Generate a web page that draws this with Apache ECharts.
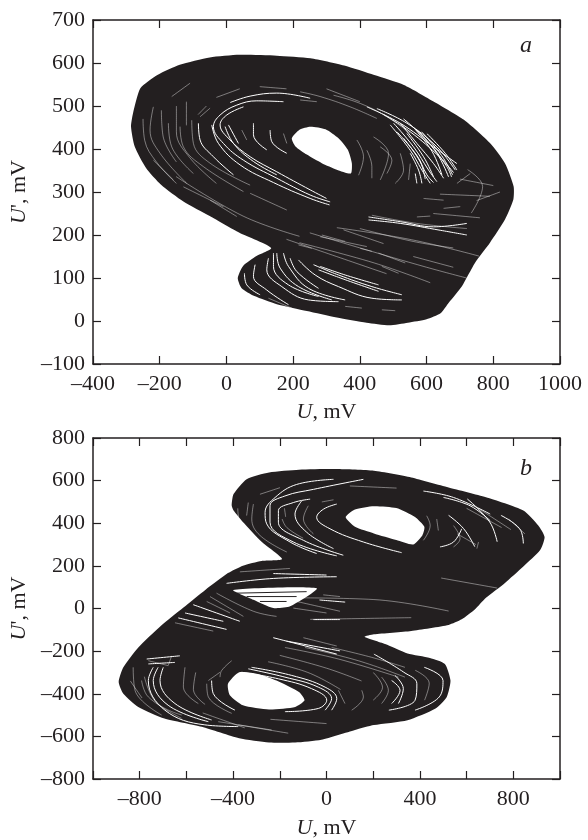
<!DOCTYPE html>
<html><head><meta charset="utf-8">
<style>html,body{margin:0;padding:0;background:#fff}#c{width:588px;height:840px}</style>
<script src="https://cdn.jsdelivr.net/npm/echarts@6/dist/echarts.min.js"></script>
</head><body><div id="c"></div>
<script>
const outlineA=[[-286,452],[-280,483],[-258,541],[-207,572],[-140,596],[-50,613],[39,619],[151,617],[252,611],[353,594],[443,572],[532,549],[622,510],[712,468],[790,414],[835,367],[861,313],[860,282],[835,236],[790,182],[745,135],[706,81],[667,43],[642,18],[600,4],[544,-4],[488,-10],[420,-4],[331,8],[241,23],[151,39],[84,58],[45,77],[34,100],[50,128],[90,151],[134,170],[39,205],[-50,244],[-129,278],[-196,317],[-241,356],[-275,406]];
const holeA=[[196,425],[219,445],[252,452],[297,446],[336,425],[364,398],[376,367],[373,343],[331,352],[286,367],[241,387],[207,406]];
const strongA=[
[[311,277],[251,293],[151,332],[51,374],[-9,413],[-39,452],[-19,479],[31,502],[91,512],[171,510]],
[[300,285],[251,305],[151,347],[71,382],[11,421],[-19,456],[1,479],[51,498]],
[[309,270],[251,285],[141,322],[41,363],[-24,413],[-44,456]],
[[-4,452],[21,413],[81,371],[151,340]],
[[6,456],[36,413]],
[[11,508],[71,523],[151,530],[251,518]],
[[-84,460],[-79,421],[-39,382],[21,340]],
[[81,460],[81,433],[121,398]],
[[131,444],[136,417],[181,390]],
[[421,498],[521,460],[621,405],[691,366]],
[[451,494],[541,460],[631,405],[686,351]],
[[521,460],[571,413],[621,366],[651,332]],
[[501,460],[561,405],[606,351],[631,324]],
[[491,456],[551,397],[586,351],[611,320]],
[[541,436],[591,382],[621,335]],
[[571,444],[631,390],[666,335]],
[[601,436],[656,390],[691,351]],
[[551,390],[576,351],[586,320]],
[[566,343],[571,320]],
[[471,480],[551,440],[641,380],[681,345]],
[[531,470],[601,420],[660,360],[675,335]],
[[511,440],[571,385],[601,340],[621,322]],
[[531,425],[581,370],[596,330]],
[[561,450],[616,395],[646,340]],
[[585,440],[645,385],[678,340]],
[[426,242],[521,231],[621,219],[721,227]],
[[426,235],[521,227],[641,211],[721,200]],
[[216,142],[266,107],[336,80],[436,53],[526,49]],
[[261,131],[336,107],[436,80],[526,61]],
[[281,127],[356,107],[456,84]],
[[276,119],[356,96],[456,69]],
[[54,111],[61,84],[101,61]],
[[86,131],[81,104],[121,72],[186,38]],
[[126,146],[121,119],[166,80],[246,49],[336,45]],
[[141,158],[141,127],[186,84],[276,57]],
[[151,158],[161,123],[216,80],[316,49]],
[[171,158],[186,127],[246,76],[356,49]],
[[191,146],[211,115],[276,76]]
];
const faintA=[
[[-104,467],[-99,413],[-49,367],[71,316]],
[[-49,495],[-79,475]],
[[-139,452],[-129,405],[-69,359],[51,301]],
[[-174,460],[-164,405],[-99,343]],
[[-219,498],[-229,444],[-199,390],[-119,320]],
[[-164,522],[-109,553]],
[[171,436],[181,413]],
[[46,444],[61,421]],
[[-129,312],[-9,266]],
[[-49,281],[31,243]],
[[71,297],[181,258]],
[[-219,374],[-159,328]],
[[221,533],[281,522],[371,498],[451,471]],
[[321,525],[401,506],[481,475],[551,436]],
[[221,514],[271,510]],
[[391,421],[411,382],[396,339]],
[[441,428],[486,390],[461,328]],
[[461,405],[496,374],[481,343]],
[[521,390],[531,351],[506,320]],
[[551,366],[546,328]],
[[421,397],[436,359],[436,332]],
[[436,246],[571,227],[721,215]],
[[651,262],[701,266]],
[[591,285],[651,281]],
[[281,196],[421,173]],
[[351,212],[471,180]],
[[571,242],[611,244]],
[[691,320],[731,343]],
[[723,352],[768,313],[734,251]],
[[331,217],[555,189],[757,151]],
[[219,182],[443,135],[611,89]],
[[-151,336],[50,244],[219,197]],
[[126,53],[196,30]],
[[356,34],[406,30]],
[[216,177],[256,169]],
[[401,169],[436,162]],
[[286,200],[356,185]],
[[456,158],[536,135]],
[[466,127],[516,111]],
[[466,26],[506,24]],
[[-250,470],[-245,420],[-210,370],[-150,320]],
[[-195,490],[-190,430],[-150,370]],
[[-150,500],[-150,440],[-110,380],[-30,320]],
[[-120,510],[-120,455]],
[[-60,500],[-85,480]],
[[-30,520],[40,540]],
[[100,545],[180,540]],
[[300,540],[400,510]],
[[250,205],[400,170],[600,125],[720,100]],
[[180,190],[330,150],[480,110]],
[[400,215],[560,185],[680,170]],
[[560,150],[680,125]],
[[620,250],[760,240]],
[[640,295],[790,290]],
[[700,330],[800,315]],
[[750,280],[820,300]]
];
const outlineB=[[-406,483],[-398,537],[-342,607],[-246,638],[-118,651],[42,654],[203,646],[363,615],[523,568],[683,522],[843,460],[907,390],[934,336],[915,274],[843,197],[763,119],[683,50],[635,-5],[579,-51],[523,-77],[363,-105],[203,-121],[163,-133],[251,-167],[347,-211],[443,-232],[507,-260],[531,-338],[515,-415],[467,-469],[347,-524],[203,-547],[122,-570],[-22,-616],[-134,-629],[-246,-629],[-374,-609],[-534,-555],[-694,-516],[-806,-462],[-870,-400],[-890,-345],[-870,-276],[-806,-183],[-710,-82],[-614,3],[-518,88],[-422,166],[-358,201],[-278,223],[-190,232],[-278,313],[-358,406],[-398,460]];
const holeB1=[[82,429],[122,465],[203,480],[299,471],[379,429],[419,383],[411,344],[371,300],[299,321],[203,352],[122,383]];
const holeB2=[[-374,-299],[-422,-353],[-414,-407],[-358,-454],[-246,-474],[-134,-462],[-94,-431],[-118,-392],[-214,-338],[-294,-307]];
const wedgeB=[[-399,87],[-42,95],[-156,10],[-228,2],[-313,41]];
const wedgeLinesB=[[[-385,72],[-85,79]],[[-342,56],[-128,56]],[[-285,33],[-171,33]]];
const strongB=[
[[322,262],[158,312],[15,374],[-42,428],[-13,466],[44,490]],
[[72,250],[-99,320],[-206,405],[-206,459],[-142,497],[-70,513]],
[[44,247],[-142,312],[-242,405],[-242,482],[-178,528],[-56,559],[158,606]],
[[-42,258],[-156,312],[-256,397],[-263,451],[-220,521],[-128,582],[30,606]],
[[-106,505],[-135,443],[-85,358],[30,281]],
[[415,551],[544,521],[701,443]],
[[501,521],[615,482],[701,412]],
[[486,289],[544,312],[579,374]],
[[603,514],[699,406],[731,313]],
[[747,437],[827,375],[843,305]],
[[523,437],[587,375],[635,290]],
[[-428,118],[-228,141],[44,149]],
[[-228,164],[0,157]],
[[-571,18],[-371,-60]],
[[-606,-21],[-442,-60]],
[[-635,-44],[-428,-98]],
[[-56,-52],[58,-52]],
[[-364,-299],[-206,-330],[-64,-376],[1,-430],[-35,-469],[-178,-484]],
[[-335,-283],[-178,-322],[-35,-369],[22,-423],[-6,-477]],
[[-321,-276],[-149,-314],[-6,-369],[44,-423],[22,-477]],
[[-742,-276],[-763,-338],[-692,-477],[-521,-546],[-378,-554]],
[[-721,-276],[-742,-338],[-678,-454],[-506,-531]],
[[-699,-276],[-713,-338],[-649,-446],[-492,-523]],
[[-770,-237],[-628,-222]],
[[-763,-260],[-649,-253]],
[[279,-338],[315,-384],[279,-446]],
[[293,-314],[329,-376],[308,-446]],
[[419,-276],[499,-338],[483,-415],[379,-477]],
[[203,-214],[331,-299],[387,-353],[379,-431],[267,-477]],
[[-492,-338],[-485,-399],[-392,-477]],
[[-228,-137],[44,-214]],
[[-171,-153],[58,-199]],
[[-30,40],[80,30]]
];
const faintB=[
[[-78,482],[-99,420],[-56,350]],
[[-313,490],[-320,420],[-285,343],[-170,265]],
[[-335,497],[-342,436]],
[[-285,536],[-199,567]],
[[472,420],[479,366]],
[[644,281],[651,312]],
[[429,435],[444,389],[415,320]],
[[544,389],[572,327],[544,289]],
[[-371,172],[-156,188]],
[[-471,72],[-313,-13],[-214,-37]],
[[-499,56],[-356,-37]],
[[-513,33],[-413,-21]],
[[-649,-67],[-485,-106]],
[[-99,-137],[44,-176]],
[[-128,33],[58,-13]],
[[-14,64],[58,56]],
[[-142,2],[0,-21]],
[[491,143],[731,96]],
[[-118,50],[203,42],[523,-12]],
[[-70,-51],[363,-43]],
[[-792,-338],[-763,-415],[-621,-515]],
[[-828,-276],[-820,-384],[-706,-500]],
[[-763,-245],[-678,-268]],
[[-663,-222],[-678,-268]],
[[-513,-353],[-506,-415],[-406,-492]],
[[-456,-299],[-506,-338]],
[[-406,-245],[-449,-291],[-456,-322]],
[[-606,-276],[-613,-369],[-549,-446]],
[[151,-384],[158,-415],[108,-477]],
[[236,-322],[265,-384],[236,-446]],
[[51,-384],[79,-446]],
[[-178,-183],[51,-237],[308,-322]],
[[-92,-183],[136,-245],[336,-322]],
[[22,-183],[193,-229],[336,-276]],
[[-378,-546],[-164,-585]],
[[-464,-531],[-235,-570]],
[[-380,470],[-370,400],[-330,340]],
[[-190,420],[-170,380],[-100,330]],
[[-180,470],[-175,430]],
[[-20,500],[30,510]],
[[100,575],[300,565]],
[[600,470],[750,380]],
[[650,470],[790,370]],
[[780,420],[850,350]],
[[560,350],[640,300]],
[[-780,-320],[-730,-440],[-620,-500]],
[[-840,-340],[-790,-420]],
[[-560,-300],[-570,-380],[-520,-450]],
[[-250,-250],[-80,-300],[60,-380]],
[[-200,-220],[0,-280],[150,-340]],
[[-530,-490],[-350,-560]],
[[-240,-520],[0,-540]],
[[200,-300],[240,-370],[200,-430]],
[[380,-290],[440,-350],[420,-430]]
];
const INK='#231f20';
const FONT='"Liberation Serif","Times New Roman",serif';
const chart=echarts.init(document.getElementById('c'),null,{renderer:'canvas'});
const dash=v=>String(v).replace('-','\u2013');
const line={onZero:false,lineStyle:{color:INK,width:1.5}};
const tick={inside:true,length:8,lineStyle:{color:INK,width:1.2}};
const SIZE=22;
const nameStyle={fontFamily:FONT,fontSize:SIZE,color:INK,rich:{i:{fontFamily:FONT,fontSize:SIZE,fontStyle:'italic',color:INK}}};
function xAx(i,min,max,step,fmt,gap){return [
 {gridIndex:i,type:'value',min,max,interval:step,axisLine:line,axisTick:tick,splitLine:{show:false},
  axisLabel:{showMinLabel:true,showMaxLabel:true,hideOverlap:false,margin:9,fontFamily:FONT,fontSize:SIZE,color:INK,formatter:fmt},
  name:'{i|U}, mV',nameLocation:'middle',nameGap:gap,nameTextStyle:nameStyle},
 {gridIndex:i,type:'value',position:'top',min,max,interval:step,axisLine:line,axisTick:tick,splitLine:{show:false},axisLabel:{show:false}}
];}
function yAx(i,min,max,step,gap){return [
 {gridIndex:i,type:'value',min,max,interval:step,axisLine:line,axisTick:tick,splitLine:{show:false},
  axisLabel:{showMinLabel:true,showMaxLabel:true,hideOverlap:false,margin:8,fontFamily:FONT,fontSize:SIZE,color:INK,formatter:dash},
  name:"{i|U}', mV",nameLocation:'middle',nameGap:gap,nameTextStyle:nameStyle},
 {gridIndex:i,type:'value',position:'right',min,max,interval:step,axisLine:line,axisTick:tick,splitLine:{show:false},axisLabel:{show:false}}
];}
function poly(pts,color,xi,yi,z){return {type:'custom',coordinateSystem:'cartesian2d',xAxisIndex:xi,yAxisIndex:yi,z,silent:true,clip:true,
 data:pts,encode:{x:0,y:1},
 renderItem:(p,api)=>p.dataIndex===0?{type:'polygon',shape:{points:pts.map(q=>api.coord(q)),smooth:0.2},style:{fill:color}}:null};}
function gap(pts,xi,yi,w,o){return {type:'line',xAxisIndex:xi,yAxisIndex:yi,data:pts,smooth:0.4,showSymbol:false,symbol:'none',z:5,silent:true,
 lineStyle:{color:'#fff',width:w,opacity:o},animation:false};}
function ink(pts,xi,yi,w){return {type:'line',xAxisIndex:xi,yAxisIndex:yi,data:pts,showSymbol:false,symbol:'none',z:6,silent:true,
 lineStyle:{color:INK,width:w},animation:false};}
const series=[
 poly(outlineA,INK,0,0,2),poly(holeA,'#fff',0,0,3),
 ...strongA.map(g=>gap(g,0,0,1,1)),
 ...faintA.map(g=>gap(g,0,0,0.6,0.7)),
 poly(outlineB,INK,2,2,2),poly(holeB1,'#fff',2,2,3),poly(holeB2,'#fff',2,2,3),poly(wedgeB,'#fff',2,2,3),
 ...strongB.map(g=>gap(g,2,2,1,1)),
 ...faintB.map(g=>gap(g,2,2,0.6,0.7)),
 ...wedgeLinesB.map(g=>ink(g,2,2,1))
];
chart.setOption({animation:false,backgroundColor:'#fff',
 grid:[{left:93,width:467,top:20,height:344},{left:93,width:467,top:438,height:345}],
 xAxis:[...xAx(0,-400,1000,200,dash,37),...xAx(1,-1000,1000,200,v=>v%400===0&&Math.abs(v)<1000?dash(v):'',38)],
 yAxis:[...yAx(0,-100,700,100,52),...yAx(1,-800,800,200,59)],
 title:[
  {text:'a',left:520,top:34,textStyle:{fontFamily:FONT,fontSize:24,fontStyle:'italic',fontWeight:'normal',color:INK},padding:0},
  {text:'b',left:520,top:457,textStyle:{fontFamily:FONT,fontSize:24,fontStyle:'italic',fontWeight:'normal',color:INK},padding:0}
 ],
 series});
</script></body></html>
